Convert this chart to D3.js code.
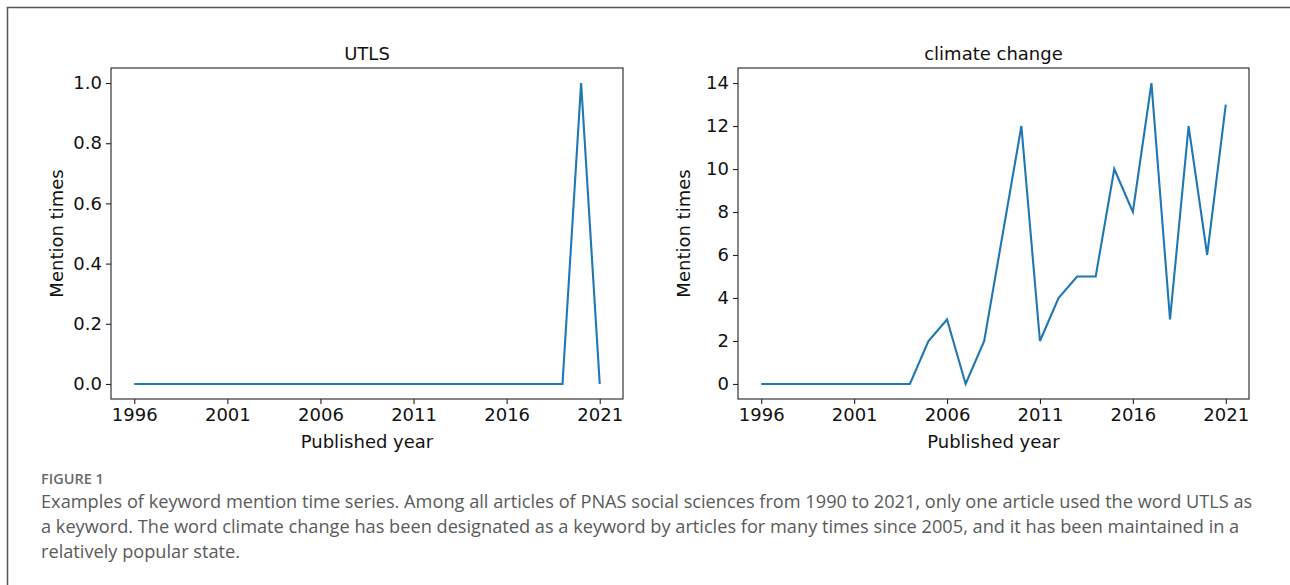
<!DOCTYPE html>
<html>
<head>
<meta charset="utf-8">
<script src="https://cdn.jsdelivr.net/npm/d3@7"></script>
<style>
  html, body { margin: 0; padding: 0; background: #fff; }
  svg { display: block; }
</style>
</head>
<body>
<svg id="fig" width="1290" height="585"></svg>
<script>
// Published years shared by both panels
const years = d3.range(1996, 2022);

// Yearly mention counts per keyword
const utlsCounts = [0,0,0,0,0,0,0,0,0,0,0,0,0,0,0,0,0,0,0,0,0,0,0,0,1,0];
const climateCounts = [0,0,0,0,0,0,0,0,0,2,3,0,2,7,12,2,4,5,5,10,8,14,3,12,6,13];

// Axis tick values and labels
const xTicks = [1996, 2001, 2006, 2011, 2016, 2021];
const utlsTicks = [0, 0.2, 0.4, 0.6, 0.8, 1.0];
const climateTicks = [0, 2, 4, 6, 8, 10, 12, 14];

const panelTitles = ["UTLS", "climate change"];
const xLabel = "Published year";
const yLabel = "Mention times";

const captionHead = "FIGURE 1";
const captionLines = [
  "Examples of keyword mention time series. Among all articles of PNAS social sciences from 1990 to 2021, only one article used the word UTLS as",
  "a keyword. The word climate change has been designated as a keyword by articles for many times since 2005, and it has been maintained in a",
  "relatively popular state."
];

const svg = d3.select("#fig");
const lineColor = "#1f77b4";
const axisColor = "#222";
const font = "DejaVu Sans, sans-serif";
const fs = "18px";

// Outer frame (top and left rules)
svg.append("path")
  .attr("d", "M7.5,1000 L7.5,7.5 L1300,7.5")
  .attr("fill", "none")
  .attr("stroke", "#555")
  .attr("stroke-width", 1.5);

function drawPanel(opts) {
  const { left, top, width, height, values, yTicks, yFormat, yMax, title } = opts;
  const g = svg.append("g").attr("transform", `translate(${left},${top})`);

  // matplotlib-style 5% margins around the data range
  const xPad = (2021 - 1996) * 0.05;
  const x = d3.scaleLinear().domain([1996 - xPad, 2021 + xPad]).range([0, width]);
  const yPad = yMax * 0.05;
  const y = d3.scaleLinear().domain([-yPad, yMax + yPad]).range([height, 0]);

  const xAxis = d3.axisBottom(x).tickValues(xTicks).tickFormat(d3.format("d"))
    .tickSize(5).tickPadding(4).tickSizeOuter(0);
  const yAxis = d3.axisLeft(y).tickValues(yTicks).tickFormat(yFormat)
    .tickSize(5).tickPadding(4).tickSizeOuter(0);

  const gx = g.append("g").attr("transform", `translate(0,${height})`).call(xAxis);
  const gy = g.append("g").call(yAxis);
  [gx, gy].forEach(a => {
    a.select(".domain").remove();
    a.selectAll(".tick line").attr("stroke", axisColor).attr("stroke-width", 1.1);
    a.selectAll(".tick text").attr("fill", "#111").style("font-family", font).style("font-size", fs);
  });

  // Series line
  const line = d3.line().x((d, i) => x(years[i])).y(d => y(d));
  g.append("path")
    .datum(values)
    .attr("d", line)
    .attr("fill", "none")
    .attr("stroke", lineColor)
    .attr("stroke-width", 2.1)
    .attr("stroke-linejoin", "miter");

  // Axes box
  g.append("rect")
    .attr("x", 0).attr("y", 0).attr("width", width).attr("height", height)
    .attr("fill", "none").attr("stroke", axisColor).attr("stroke-width", 1.1);

  g.append("text")
    .attr("x", width / 2).attr("y", -8)
    .attr("text-anchor", "middle")
    .style("font-family", font).style("font-size", fs).attr("fill", "#111")
    .text(title);

  g.append("text")
    .attr("x", width / 2).attr("y", height + 49)
    .attr("text-anchor", "middle")
    .style("font-family", font).style("font-size", fs).attr("fill", "#111")
    .text(xLabel);

  g.append("text")
    .attr("transform", `translate(${-48},${height / 2}) rotate(-90)`)
    .attr("text-anchor", "middle")
    .style("font-family", font).style("font-size", fs).attr("fill", "#111")
    .text(yLabel);
}

drawPanel({
  left: 111, top: 68, width: 512, height: 331,
  values: utlsCounts, yTicks: utlsTicks, yFormat: d3.format(".1f"), yMax: 1,
  title: panelTitles[0]
});

drawPanel({
  left: 738, top: 68, width: 511, height: 331,
  values: climateCounts, yTicks: climateTicks, yFormat: d3.format("d"), yMax: 14,
  title: panelTitles[1]
});

// Caption
const capFont = "'Open Sans', Lato, sans-serif";
svg.append("text")
  .attr("x", 41).attr("y", 484)
  .style("font-family", capFont).style("font-size", "14.5px").style("font-weight", 600)
  .attr("fill", "#6a6a6a")
  .text(captionHead);

svg.selectAll("text.cap")
  .data(captionLines)
  .enter().append("text")
  .attr("class", "cap")
  .attr("x", 41)
  .attr("y", (d, i) => 508 + i * 25)
  .style("font-family", capFont).style("font-size", "18.2px")
  .attr("fill", "#5a5a5a")
  .text(d => d);
</script>
</body>
</html>
